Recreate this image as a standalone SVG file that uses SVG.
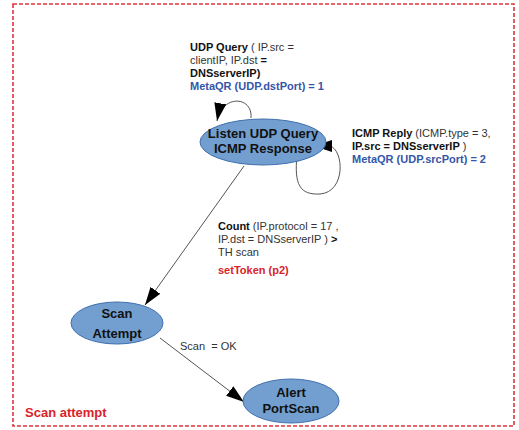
<svg xmlns="http://www.w3.org/2000/svg" width="519" height="430" viewBox="0 0 519 430">
<style>
text{font-family:"Liberation Sans",Arial,sans-serif;font-size:11px;fill:#333}
.b{font-weight:bold;fill:#111}
.blue{font-weight:bold;fill:#3456a8}
.red{font-weight:bold;fill:#d8232a}
.node ellipse{fill:#729fcf;stroke:#3f6fae;stroke-width:1}
.node text{font-weight:bold;font-size:13px;fill:#111;text-anchor:middle}
.edge{fill:none;stroke:#555;stroke-width:1}
</style>
<defs>
<marker id="ah" viewBox="0 0 18 12" refX="18" refY="6" markerWidth="18" markerHeight="12" markerUnits="userSpaceOnUse" orient="auto">
<path d="M0,0 L18,6 L0,12 Z" fill="#000"/>
</marker>
</defs>
<rect x="13" y="4" width="501" height="422" fill="none" stroke="#e0343c" stroke-width="1.6" stroke-dasharray="4,2"/>
<g id="connectors">
<path class="edge" d="M251,118 C253,96 222,94 217,121" marker-end="url(#ah)"/>
<path class="edge" d="M297,155 C294,185 300,195 320,194 C346,192 344,150 330,146 L314,146" marker-end="url(#ah)"/>
<line class="edge" x1="244" y1="166" x2="145" y2="305" marker-end="url(#ah)"/>
<line class="edge" x1="160" y1="338" x2="244" y2="402" marker-end="url(#ah)"/>
</g>
<g id="listen" class="node">
<ellipse cx="263" cy="142" rx="63" ry="23"/>
<text x="263" y="138">Listen UDP Query</text>
<text x="263" y="153">ICMP Response</text>
</g>
<g id="scan" class="node">
<ellipse cx="117" cy="323" rx="46" ry="21"/>
<text x="117" y="318">Scan</text>
<text x="117" y="338">Attempt</text>
</g>
<g id="alert" class="node">
<ellipse cx="291" cy="401" rx="48" ry="22"/>
<text x="291" y="397">Alert</text>
<text x="291" y="413">PortScan</text>
</g>
<g id="labels">
<text x="190" y="51"><tspan class="b">UDP Query</tspan> ( IP.src =</text>
<text x="190" y="64">clientIP, IP.dst <tspan class="b">=</tspan></text>
<text x="190" y="77" class="b">DNSserverIP)</text>
<text x="190" y="90" class="blue">MetaQR (UDP.dstPort) = 1</text>
<text x="352" y="137"><tspan class="b">ICMP Reply</tspan> (ICMP.type = 3,</text>
<text x="352" y="150"><tspan class="b">IP.src = DNSserverIP</tspan> )</text>
<text x="352" y="163" class="blue">MetaQR (UDP.srcPort) = 2</text>
<text x="218" y="230"><tspan class="b">Count</tspan> (IP.protocol = 17 ,</text>
<text x="218" y="243">IP.dst = DNSserverIP ) <tspan class="b">&gt;</tspan></text>
<text x="218" y="256">TH scan</text>
<text x="218" y="274" class="red">setToken (p2)</text>
<text x="180" y="350">Scan&#160; = OK</text>
<text x="25" y="417" class="red" style="font-size:13px">Scan attempt</text>
</g>
</svg>
